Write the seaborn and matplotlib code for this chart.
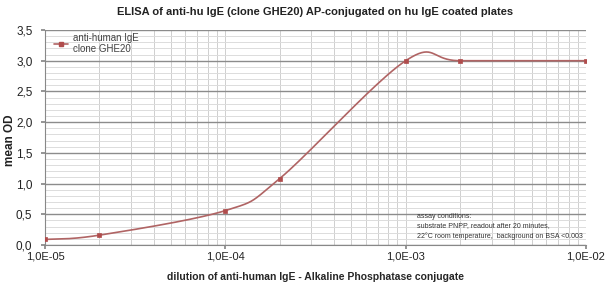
import numpy as np
import pandas as pd
import matplotlib
matplotlib.use("Agg")
import matplotlib.pyplot as plt
import seaborn as sns
from matplotlib.ticker import FuncFormatter, MultipleLocator, LogLocator, NullFormatter
from matplotlib.lines import Line2D

# ---- data ----
dilution = [1e-5, 2e-5, 1e-4, 2e-4, 1e-3, 2e-3, 1e-2]
mean_od = [0.09, 0.16, 0.56, 1.08, 3.0, 3.0, 3.0]
series_label = "anti-human IgE\nclone GHE20"
title = "ELISA of anti-hu IgE (clone GHE20) AP-conjugated on hu IgE coated plates"
xlabel = "dilution of anti-human IgE - Alkaline Phosphatase conjugate"
ylabel = "mean OD"
note = ("assay conditions:\nsubstrate PNPP, readout after 20 minutes,\n"
        "22°C room temperature,  background on BSA <0.003")

sns.set_theme(style="white")
plt.rcParams['font.family'] = ['Liberation Sans', 'DejaVu Sans']

LINE = "#b06464"
MARK = "#b04c4c"

# Excel-like smoothed line (cubic Bezier through points in log-x space)
lx = np.log10(np.array(dilution))
yy = np.array(mean_od, dtype=float)
P = np.column_stack([lx, yy])
n = len(P)
curve = []
t = np.linspace(0, 1, 40)
for i in range(n - 1):
    p0 = P[max(i - 1, 0)]
    p1 = P[i]
    p2 = P[i + 1]
    p3 = P[min(i + 2, n - 1)]
    c1 = p1 + (p2 - p0) / 6.0
    c2 = p2 - (p3 - p1) / 6.0
    seg = ((1 - t) ** 3)[:, None] * p1 + (3 * (1 - t) ** 2 * t)[:, None] * c1 \
        + (3 * (1 - t) * t ** 2)[:, None] * c2 + (t ** 3)[:, None] * p2
    curve.append(seg if i == 0 else seg[1:])
curve = np.vstack(curve)
smooth = pd.DataFrame({"x": 10 ** curve[:, 0], "y": curve[:, 1]})
pts = pd.DataFrame({"x": dilution, "y": mean_od})

fig = plt.figure(figsize=(6.05, 2.93), dpi=100)
ax = fig.add_axes([45 / 605, 1 - 245 / 293, (586 - 45) / 605, (245 - 30) / 293])

ax.set_xscale("log")
ax.set_xlim(1e-5, 1e-2)
ax.set_ylim(0, 3.5)

# grid
ax.yaxis.set_major_locator(MultipleLocator(0.5))
ax.yaxis.set_minor_locator(MultipleLocator(0.1))
ax.xaxis.set_major_locator(LogLocator(base=10, numticks=10))
ax.xaxis.set_minor_locator(LogLocator(base=10, subs=np.arange(2, 10), numticks=20))
ax.xaxis.set_minor_formatter(NullFormatter())
ax.grid(which="major", axis="y", color="#8c8c8c", linewidth=1.0)
ax.grid(which="minor", axis="y", color="#dcdcdc", linewidth=0.7)
ax.grid(which="both", axis="x", color="#cfcfcf", linewidth=0.7)
ax.set_axisbelow(True)

sns.lineplot(data=smooth, x="x", y="y", sort=False, ax=ax, color=LINE,
             linewidth=1.2, estimator=None, legend=False)
sns.scatterplot(data=pts, x="x", y="y", ax=ax, marker="s", s=10,
                color=MARK, edgecolor=MARK, linewidth=0.5, legend=False, zorder=5)

ax.yaxis.set_major_formatter(FuncFormatter(lambda v, p: f"{v:.1f}".replace(".", ",")))
ax.xaxis.set_major_formatter(FuncFormatter(lambda v, p: f"{v:.1E}".replace(".", ",")))
ax.tick_params(axis="x", which="major", labelsize=8, length=3, colors="#888888",
               labelcolor="#222222", pad=2, bottom=True)
ax.tick_params(axis="y", which="major", labelsize=8.5, length=3, colors="#888888",
               labelcolor="#222222", pad=6, left=True)
ax.tick_params(axis="both", which="minor", length=0)

for s in ["top", "right"]:
    ax.spines[s].set_visible(False)
for s in ["left", "bottom"]:
    ax.spines[s].set_color("#888888")
    ax.spines[s].set_linewidth(0.8)

ax.set_xlabel(xlabel, fontsize=7.5, fontweight="bold", labelpad=7)
ax.set_ylabel("")
fig.text(10 / 605, 1 - 140 / 293, ylabel, rotation=90, ha="center", va="center",
         fontsize=8.5, fontweight="bold", color="#222222")
fig.text(0.52, 1 - 12 / 293, title, ha="center", va="center", fontsize=8,
         fontweight="bold", color="#222222")

handle = Line2D([], [], color=LINE, marker="s", markersize=3,
                markerfacecolor=MARK, markeredgecolor=MARK, linewidth=1.2)
ax.legend([handle], [series_label], loc="upper left", frameon=False, fontsize=7,
          handlelength=1.4, handletextpad=0.5, borderaxespad=0.0,
          bbox_to_anchor=(0.01, 1.005), labelcolor="#444444", labelspacing=0.6)

ax.text((417 - 45) / 541, (245 - 213) / 215, note, transform=ax.transAxes,
        fontsize=5, va="top", ha="left", color="#333333", linespacing=1.5)

fig.savefig("out.png", dpi=100)
